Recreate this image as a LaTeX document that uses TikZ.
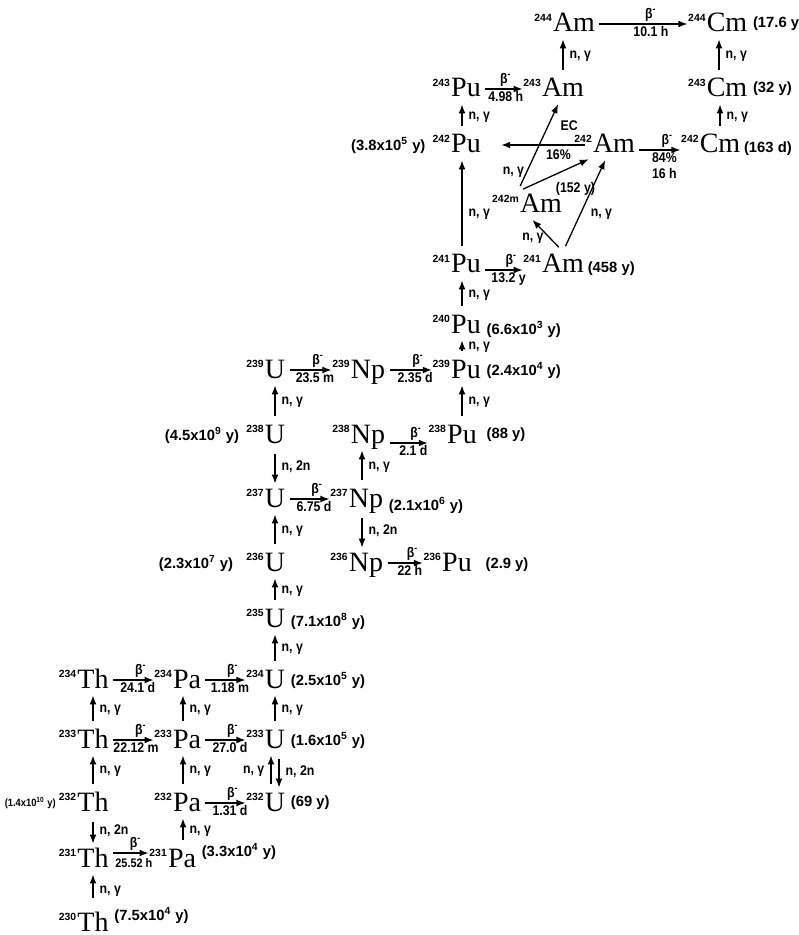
\documentclass[tikz,border=0pt]{standalone}
\usepackage{fontspec}
\setmainfont{Liberation Serif}
\newfontfamily\lblf{Liberation Sans}
\newfontfamily\lblc{Liberation Sans}[FakeStretch=0.88]
\usetikzlibrary{arrows.meta,positioning}
\newcommand{\ms}[1]{\llap{\raisebox{5.4pt}{\lblf\bfseries\fontsize{5.2}{6}\selectfont #1}\hspace{0.6pt}}}
\newcommand{\pw}[1]{\textsuperscript{#1}}
\newcommand{\bmi}{β\pw{-}}
\tikzset{
  nuc/.style={anchor=base,inner sep=1pt,text height=9.5pt,text depth=1.5pt,font=\fontsize{14}{16}\selectfont},
  lb/.style={inner sep=1pt,font=\lblc\bfseries\fontsize{7}{8}\selectfont},
  hl/.style={inner sep=0.5pt,font=\lblf\bfseries\fontsize{7.4}{8}\selectfont},
  tip/.style={-{Latex[length=4.5pt,width=3.4pt]},line width=0.65pt},
  dec/.style={tip,shorten <=1pt,shorten >=8.5pt},
  ng/.style={tip,shorten <=3pt,shorten >=1pt},
}

\begin{document}
\begin{tikzpicture}[x=0.5pt,y=-0.5pt]
  \useasboundingbox (0,0) rectangle (798,935);
  % nuclides
  \node[nuc] (Am244) at (574,32) {\ms{244}Am};
  \node[nuc] (Cm244) at (727,32) {\ms{244}Cm};
  \node[nuc] (Pu243) at (466,97) {\ms{243}Pu};
  \node[nuc] (Am243) at (563,97) {\ms{243}Am};
  \node[nuc] (Cm243) at (727,97) {\ms{243}Cm};
  \node[nuc] (Pu242) at (466,153) {\ms{242}Pu};
  \node[nuc] (Am242) at (614,153) {\ms{242}Am};
  \node[nuc] (Cm242) at (720,153) {\ms{242}Cm};
  \node[nuc] (Am242m) at (541,213) {\ms{242m}Am};
  \node[nuc] (Pu241) at (466,273) {\ms{241}Pu};
  \node[nuc] (Am241) at (563,273) {\ms{241}Am};
  \node[nuc] (Pu240) at (466,333) {\ms{240}Pu};
  \node[nuc] (U239) at (275,378) {\ms{239}U};
  \node[nuc] (Np239) at (368,378) {\ms{239}Np};
  \node[nuc] (Pu239) at (466,378) {\ms{239}Pu};
  \node[nuc] (U238) at (275,443) {\ms{238}U};
  \node[nuc] (Np238) at (368,443) {\ms{238}Np};
  \node[nuc] (Pu238) at (462,443) {\ms{238}Pu};
  \node[nuc] (U237) at (275,507) {\ms{237}U};
  \node[nuc] (Np237) at (366,507) {\ms{237}Np};
  \node[nuc] (U236) at (275,571) {\ms{236}U};
  \node[nuc] (Np236) at (366,571) {\ms{236}Np};
  \node[nuc] (Pu236) at (457,571) {\ms{236}Pu};
  \node[nuc] (U235) at (275,627) {\ms{235}U};
  \node[nuc] (Th234) at (93,688) {\ms{234}Th};
  \node[nuc] (Pa234) at (187,688) {\ms{234}Pa};
  \node[nuc] (U234) at (275,688) {\ms{234}U};
  \node[nuc] (Th233) at (93,748) {\ms{233}Th};
  \node[nuc] (Pa233) at (187,748) {\ms{233}Pa};
  \node[nuc] (U233) at (275,748) {\ms{233}U};
  \node[nuc] (Th232) at (93,811) {\ms{232}Th};
  \node[nuc] (Pa232) at (187,811) {\ms{232}Pa};
  \node[nuc] (U232) at (275,811) {\ms{232}U};
  \node[nuc] (Th231) at (93,867) {\ms{231}Th};
  \node[nuc] (Pa231) at (182,867) {\ms{231}Pa};
  \node[nuc] (Th230) at (93,931) {\ms{230}Th};
  % half-lives
  \node[hl,right=1pt of Th230,yshift=4pt] (tTh230) {(7.5x10\pw{4} y)};
  \node[hl,right=1pt of Pa231,yshift=4pt] (tPa231) {(3.3x10\pw{4} y)};
  \node[hl,left=9pt of Th232,font=\lblc\bfseries\fontsize{5.3}{6}\selectfont] (tTh232) {(1.4x10\pw{10} y)};
  \node[hl,right=1pt of U232] (tU232) {(69 y)};
  \node[hl,right=1pt of U233] (tU233) {(1.6x10\pw{5} y)};
  \node[hl,right=1pt of U234] (tU234) {(2.5x10\pw{5} y)};
  \node[hl,right=1pt of U235,yshift=-1pt] (tU235) {(7.1x10\pw{8} y)};
  \node[hl,left=14pt of U236] (tU236) {(2.3x10\pw{7} y)};
  \node[hl,right=1pt of Np237,yshift=-3pt] (tNp237) {(2.1x10\pw{6} y)};
  \node[hl,left=11pt of U238] (tU238) {(4.5x10\pw{9} y)};
  \node[hl,right=5pt of Pu236,yshift=-1pt] (tPu236) {(2.9 y)};
  \node[hl,right=3pt of Pu238] (tPu238) {(88 y)};
  \node[hl,right=1pt of Pu239] (tPu239) {(2.4x10\pw{4} y)};
  \node[hl,right=1pt of Pu240,yshift=-2pt] (tPu240) {(6.6x10\pw{3} y)};
  \node[hl,right=0pt of Am241,yshift=-2pt] (tAm241) {(458 y)};
  \node[hl,left=11pt of Pu242] (tPu242) {(3.8x10\pw{5} y)};
  \node[hl,right=0pt of Cm242,yshift=-2pt] (tCm242) {(163 d)};
  \node[hl,right=1pt of Cm243] (tCm243) {(32 y)};
  \node[hl,right=1pt of Cm244] (tCm244) {(17.6 y};
  % beta decays
  \draw[dec] ([yshift=3pt]Th231.east) -- ([yshift=3pt]Pa231.west)
    node[pos=0.45,above,lb] {\bmi}
    node[pos=0.42,below=1.5pt,lb,font=\lblc\bfseries\fontsize{6.2}{7}\selectfont] {25.52 h};
  \draw[dec] (Pa232) -- (U232)
    node[midway,above,lb] {\bmi} node[pos=0.45,below,lb] {1.31 d};
  \draw[dec] (Th233) -- (Pa233)
    node[midway,above,lb] {\bmi} node[pos=0.42,below,lb] {22.12 m};
  \draw[dec] (Pa233) -- (U233)
    node[midway,above,lb] {\bmi} node[pos=0.45,below,lb] {27.0 d};
  \draw[dec] (Th234) -- (Pa234)
    node[midway,above,lb] {\bmi} node[pos=0.45,below,lb] {24.1 d};
  \draw[dec] (Pa234) -- (U234)
    node[midway,above,lb] {\bmi} node[pos=0.45,below,lb] {1.18 m};
  \draw[dec] (U237) -- (Np237)
    node[midway,above,lb] {\bmi} node[pos=0.45,below,lb] {6.75 d};
  \draw[dec] (Np236) -- (Pu236)
    node[midway,above,lb] {\bmi} node[pos=0.45,below,lb] {22 h};
  \draw[dec] ([yshift=-4pt]Np238.east) -- ([yshift=-4pt]Pu238.west)
    node[midway,above,lb] {\bmi} node[pos=0.45,below,lb] {2.1 d};
  \draw[dec] (U239) -- (Np239)
    node[midway,above,lb] {\bmi} node[pos=0.45,below,lb] {23.5 m};
  \draw[dec] (Np239) -- (Pu239)
    node[midway,above,lb] {\bmi} node[pos=0.45,below,lb] {2.35 d};
  \draw[dec] ([yshift=-2.5pt]Pu241.east) -- ([yshift=-2.5pt]Am241.west)
    node[midway,above,lb] {\bmi} node[pos=0.45,below,lb] {13.2 y};
  \draw[dec] ([yshift=-2.5pt]Am242.east) -- ([yshift=-2.5pt]Cm242.west)
    node[midway,above,lb] {\bmi} node[pos=0.45,below,lb,align=center] {84\%\\16 h};
  \draw[dec] (Pu243) -- (Am243)
    node[pos=0.4,above,lb] {\bmi} node[pos=0.4,below,lb] {4.98 h};
  \draw[dec] (Am244) -- (Cm244)
    node[midway,above,lb] {\bmi} node[midway,below,lb] {10.1 h};
  \draw[tip,shorten <=3pt,shorten >=9pt] (Am242) -- (Pu242)
    node[pos=0.2,above=6pt,lb] {EC} node[pos=0.3,below=1pt,lb] {16\%};
  % neutron reactions
  \draw[ng,shorten <=6pt] (Th230) -- (Th231) node[midway,right=2pt,lb] {n, γ};
  \draw[ng] (Th232) -- (Th231) node[midway,right=2pt,lb] {n, 2n};
  \draw[ng] (Th232) -- (Th233) node[midway,right=2pt,lb] {n, γ};
  \draw[ng] (Th233) -- (Th234) node[midway,right=2pt,lb] {n, γ};
  \draw[ng] ([xshift=-2pt]Pa231.north -| Pa232) -- ([xshift=-2pt]Pa232.south) node[midway,right=2pt,lb] {n, γ};
  \draw[ng] ([xshift=-2pt]Pa232.north) -- ([xshift=-2pt]Pa233.south) node[midway,right=2pt,lb] {n, γ};
  \draw[ng] ([xshift=-2pt]Pa233.north) -- ([xshift=-2pt]Pa234.south) node[midway,right=2pt,lb] {n, γ};
  \draw[ng] ([xshift=-2pt]U232.north) -- ([xshift=-2pt]U233.south) node[midway,left=2pt,lb] {n, γ};
  \draw[ng] ([xshift=2pt]U233.south) -- ([xshift=2pt]U232.north) node[midway,right=2pt,lb] {n, 2n};
  \draw[ng] (U233) -- (U234) node[midway,right=2pt,lb] {n, γ};
  \draw[ng] (U234) -- (U235) node[midway,right=2pt,lb] {n, γ};
  \draw[ng] (U235) -- (U236) node[midway,right=2pt,lb] {n, γ};
  \draw[ng] (U236) -- (U237) node[midway,right=2pt,lb] {n, γ};
  \draw[ng] (U238) -- (U237) node[midway,right=2pt,lb] {n, 2n};
  \draw[ng] (U238) -- (U239) node[midway,right=2pt,lb] {n, γ};
  \draw[ng] ([xshift=-2pt]Np237.north) -- ([xshift=-2pt]Np237.north |- Np238.south) node[midway,right=2pt,lb] {n, γ};
  \draw[ng] ([xshift=-2pt]Np237.south) -- ([xshift=-2pt]Np236.north) node[midway,right=2pt,lb] {n, 2n};
  \draw[ng] (Pu238.north) -- (Pu238.north |- Pu239.south) node[midway,right=2pt,lb] {n, γ};
  \draw[ng] ([xshift=-2pt]Pu239.north) -- ([xshift=-2pt]Pu240.south) node[midway,right=2pt,lb] {n, γ};
  \draw[ng] ([xshift=-2pt]Pu240.north) -- ([xshift=-2pt]Pu241.south) node[midway,right=2pt,lb] {n, γ};
  \draw[ng] ([xshift=-2pt]Pu241.north) -- ([xshift=-2pt]Pu242.south) node[pos=0.4,right=2pt,lb] {n, γ};
  \draw[ng] ([xshift=-2pt]Pu242.north) -- ([xshift=-2pt]Pu243.south) node[midway,right=2pt,lb] {n, γ};
  \draw[ng] (Am243.north) -- (Am243.north |- Am244.south) node[midway,right=2pt,lb] {n, γ};
  \draw[ng] (Cm242.north) -- (Cm242.north |- Cm243.south) node[midway,right=2pt,lb] {n, γ};
  \draw[ng] ([xshift=-4pt]Cm243.north) -- ([xshift=-4pt]Cm244.south) node[midway,right=2pt,lb] {n, γ};
  % americium branch
  \draw[ng] (Am241.north) -- ([xshift=-5pt]Am242m.south) node[pos=0.4,left=2pt,lb] {n, γ};
  \draw[ng] (Am241.north) -- ([xshift=-4pt]Am242.south) node[pos=0.4,right=4pt,lb] {n, γ};
  \draw[ng] (Am242m.north west) -- ([xshift=-2pt]Am243.south) node[pos=0.22,left,lb] {n, γ};
  \draw[ng] (Am242m.north west) -- (Am242.south west) node[pos=0.45,below right=2pt,lb] {(152 y)};
\end{tikzpicture}
\end{document}
